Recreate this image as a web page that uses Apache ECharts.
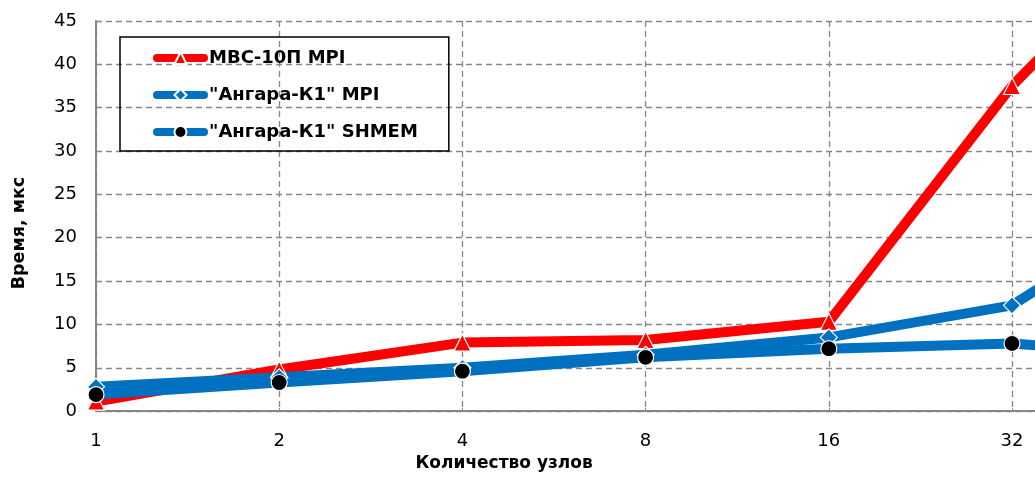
<!DOCTYPE html>
<html>
<head>
<meta charset="utf-8">
<script src="https://cdn.jsdelivr.net/npm/echarts@6/dist/echarts.min.js"></script>
<style>
html,body{margin:0;padding:0;background:#fff;overflow:hidden;width:1035px;height:477px;}
#c{width:1300px;height:477px;}
</style>
</head>
<body>
<div id="c"></div>
<script>
const categories = ['1','2','4','8','16','32','64'];
const mvsMpi = [1.1, 4.8, 7.9, 8.2, 10.3, 37.5, 59];
const angaraMpi = [2.8, 3.9, 5.0, 6.5, 8.5, 12.2, 25.5];
const angaraShmem = [1.9, 3.3, 4.6, 6.2, 7.2, 7.8, 6.2];
const seriesNames = ['МВС-10П MPI', '"Ангара-К1" MPI', '"Ангара-К1" SHMEM'];

const FONT = '"DejaVu Sans", Arial, sans-serif';
const chart = echarts.init(document.getElementById('c'), null, {renderer: 'canvas'});
const grey = '#868686';
chart.setOption({
  animation: false,
  textStyle: {fontFamily: FONT, color: '#000'},
  grid: {left: 96, right: 104.8, top: 21, bottom: 60, containLabel: false},
  legend: {
    orient: 'vertical',
    left: 120, top: 37,
    borderColor: '#000', borderWidth: 1.5,
    padding: [12, 31, 10, 33],
    itemWidth: 47, itemHeight: 15, itemGap: 19,
    lineStyle: {width: 8, cap: 'round'},
    textStyle: {fontFamily: FONT, fontWeight: 'bold', fontSize: 18, color: '#000'},
    data: seriesNames
  },
  xAxis: {
    type: 'category',
    data: categories,
    boundaryGap: false,
    name: 'Количество узлов',
    nameLocation: 'middle',
    nameGap: 43,
    nameTextStyle: {fontFamily: FONT, fontWeight: 'bold', fontSize: 17, color: '#000', padding: [0, 283, 0, 0]},
    axisLine: {lineStyle: {color: grey, width: 2}},
    axisTick: {show: true, inside: true, length: 3, lineStyle: {color: grey}},
    axisLabel: {fontSize: 18, color: '#000', margin: 21},
    splitLine: {show: true, lineStyle: {color: grey, type: [6, 4], width: 1.3}}
  },
  yAxis: {
    type: 'value',
    min: 0, max: 45, interval: 5,
    name: 'Время, мкс',
    nameLocation: 'middle',
    nameGap: 68,
    nameTextStyle: {fontFamily: FONT, fontWeight: 'bold', fontSize: 17.5, color: '#000', padding: [0, 34, 0, 0]},
    axisLine: {show: true, lineStyle: {color: grey, width: 2}},
    axisTick: {show: true, inside: true, length: 3, lineStyle: {color: grey}},
    axisLabel: {fontSize: 18, color: '#000', margin: 19},
    splitLine: {show: true, lineStyle: {color: grey, type: [6, 4], width: 1.3}}
  },
  series: [
    {
      name: seriesNames[0], type: 'line', data: mvsMpi,
      symbol: 'triangle', symbolSize: 17,
      lineStyle: {color: '#ff0000', width: 10},
      itemStyle: {color: '#ff0000', borderColor: '#fff', borderWidth: 1.2}
    },
    {
      name: seriesNames[1], type: 'line', data: angaraMpi,
      symbol: 'diamond', symbolSize: 17,
      lineStyle: {color: '#0070c0', width: 10},
      itemStyle: {color: '#0070c0', borderColor: '#fff', borderWidth: 1.2}
    },
    {
      name: seriesNames[2], type: 'line', data: angaraShmem,
      symbol: 'circle', symbolSize: 16,
      lineStyle: {color: '#0070c0', width: 10},
      itemStyle: {color: '#000', borderColor: '#fff', borderWidth: 1.2}
    }
  ]
});
</script>
</body>
</html>
